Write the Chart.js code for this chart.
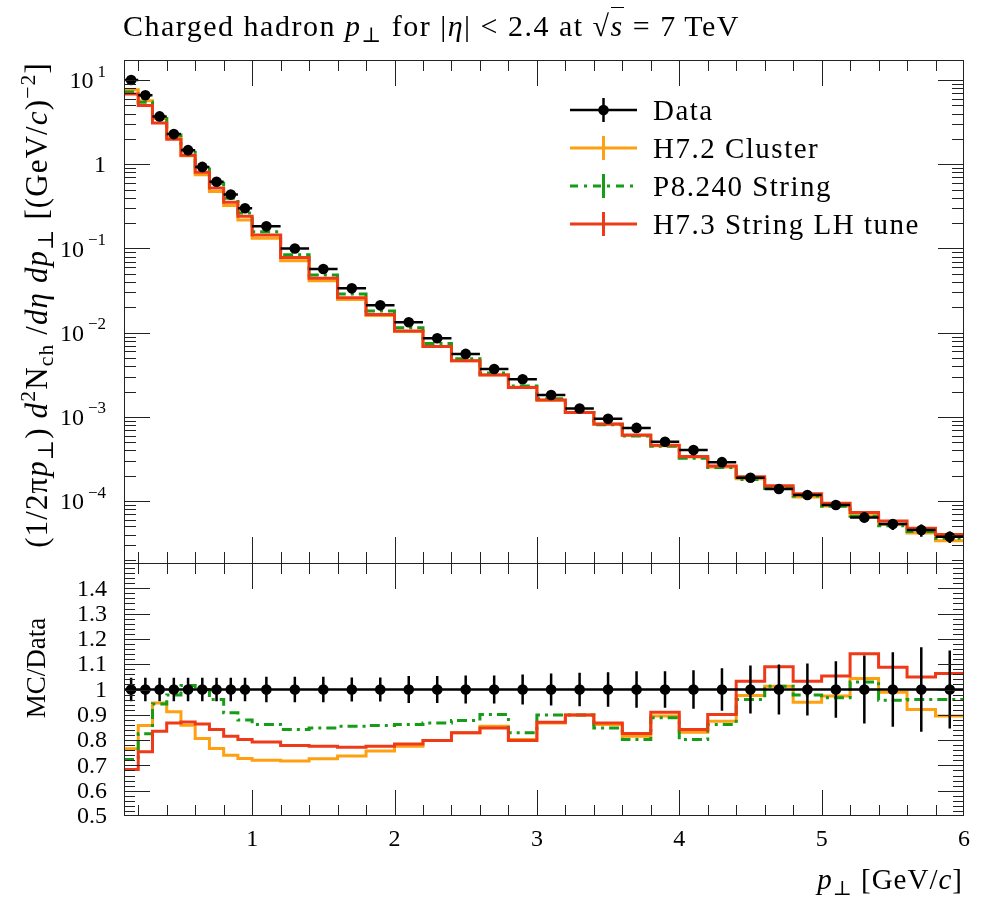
<!DOCTYPE html>
<html>
<head>
<meta charset="utf-8">
<title>Charged hadron pT at 7 TeV</title>
<script src="https://cdn.jsdelivr.net/npm/chart.js@4.4.1/dist/chart.umd.min.js"></script>
<style>
  html, body { margin: 0; padding: 0; background: #fff; }
  #wrap { position: relative; width: 996px; height: 900px; overflow: hidden; font-family: "Liberation Serif", "DejaVu Serif", serif; color: #000; }
  canvas { position: absolute; left: 0; }
  #c-top { top: 0; }
  #c-ratio { top: 540px; }
  .txt { position: absolute; white-space: nowrap; line-height: 1; }
  sub { font-size: 0.7em; vertical-align: -0.3em; line-height: 0; }
  sup { font-size: 0.7em; vertical-align: 0.55em; line-height: 0; }
  #title { left: 123px; top: 11px; font-size: 30px; letter-spacing: 1.5px; }
  #ylab { left: 36px; top: 305px; font-size: 31px; letter-spacing: 1.1px; transform: translate(-50%, -50%) rotate(-90deg); }
  #rlab { left: 36px; top: 668px; font-size: 27px; transform: translate(-50%, -50%) rotate(-90deg); }
  #xlab { right: 33px; top: 865px; font-size: 29px; letter-spacing: 1px; }
  .rt { border-top: 1.5px solid #000; padding-top: 1px; }
</style>
</head>
<body>
<div id="wrap">
  <canvas id="c-top" width="996" height="600"></canvas>
  <canvas id="c-ratio" width="996" height="360"></canvas>
  <div class="txt" id="title">Charged hadron <i>p</i><sub>⊥</sub> for |<i>η</i>| &lt; 2.4 at √<span class="rt"><i>s</i></span> = 7&thinsp;TeV</div>
  <div class="txt" id="ylab">(1/2π<i>p</i><sub>⊥</sub>) <i>d</i><sup>2</sup>N<sub>ch</sub> /<i>dη</i> <i>dp</i><sub>⊥</sub> [(GeV/<i>c</i>)<sup>−2</sup>]</div>
  <div class="txt" id="rlab">MC/Data</div>
  <div class="txt" id="xlab"><i>p</i><sub>⊥</sub> [GeV/<i>c</i>]</div>
</div>
<script>
// bin edges in pT [GeV/c]
const edges = [0.1, 0.2, 0.3, 0.4, 0.5, 0.6, 0.7, 0.8, 0.9, 1.0, 1.2, 1.4, 1.6, 1.8, 2.0, 2.2, 2.4, 2.6, 2.8, 3.0,
  3.2, 3.4, 3.6, 3.8, 4.0, 4.2, 4.4, 4.6, 4.8, 5.0, 5.2, 5.4, 5.6, 5.8, 6.0];

const data = [10.0, 6.6, 3.7, 2.28, 1.47, 0.93, 0.62, 0.436, 0.30, 0.183, 0.100, 0.057, 0.0336, 0.0211, 0.0133,
  0.0086, 0.0056, 0.0037, 0.0028, 0.00182, 0.00126, 0.00095, 0.00074, 0.000506, 0.000403, 0.00029, 0.000189,
  0.000139, 0.000118, 0.0000897, 0.000064, 0.0000533, 0.0000453, 0.0000377];
// relative uncertainty of the data
const dataErr = [0.046, 0.046, 0.046, 0.046, 0.046, 0.046, 0.046, 0.046, 0.046, 0.05, 0.05, 0.05, 0.047, 0.047,
  0.053, 0.053, 0.055, 0.055, 0.059, 0.063, 0.066, 0.068, 0.072, 0.072, 0.076, 0.084, 0.095, 0.099, 0.103,
  0.112, 0.134, 0.147, 0.167, 0.154];

const h72 = [7.66, 5.66, 3.50, 2.08, 1.263, 0.750, 0.476, 0.323, 0.218, 0.132, 0.0717, 0.0414, 0.0248, 0.0160,
  0.01032, 0.00686, 0.00464, 0.00316, 0.00225, 0.00158, 0.00113, 0.000819, 0.000603, 0.000453, 0.000335,
  0.000254, 0.000184, 0.000141, 0.000112, 0.0000874, 0.0000668, 0.0000527, 0.0000417, 0.0000337];
const p8 = [7.23, 5.45, 3.49, 2.23, 1.494, 0.93, 0.595, 0.396, 0.264, 0.158, 0.0842, 0.0483, 0.0287, 0.0181,
  0.01146, 0.00746, 0.00491, 0.00333, 0.00232, 0.00164, 0.00113, 0.000806, 0.000593, 0.000449, 0.000323,
  0.00025, 0.000181, 0.000141, 0.000115, 0.0000867, 0.0000659, 0.0000511, 0.0000435, 0.0000362];
const h73 = [6.84, 4.98, 3.09, 1.98, 1.282, 0.804, 0.522, 0.355, 0.241, 0.145, 0.0779, 0.0442, 0.0259, 0.0164,
  0.01044, 0.00686, 0.00464, 0.00314, 0.00223, 0.00159, 0.00113, 0.000825, 0.000611, 0.00046, 0.000339,
  0.000261, 0.000195, 0.000152, 0.000122, 0.0000945, 0.000073, 0.000058, 0.0000475, 0.0000401];

// MC / Data
const rH72 = [0.766, 0.858, 0.947, 0.912, 0.859, 0.806, 0.767, 0.74, 0.727, 0.72, 0.717, 0.726, 0.737, 0.757,
  0.776, 0.798, 0.829, 0.855, 0.802, 0.868, 0.899, 0.862, 0.815, 0.895, 0.831, 0.875, 0.976, 1.013, 0.95,
  0.974, 1.043, 0.989, 0.921, 0.895];
const rP8 = [0.723, 0.825, 0.943, 0.978, 1.016, 1.0, 0.96, 0.908, 0.879, 0.862, 0.842, 0.848, 0.855, 0.858,
  0.862, 0.868, 0.877, 0.901, 0.829, 0.899, 0.899, 0.848, 0.802, 0.888, 0.802, 0.862, 0.96, 1.013, 0.978,
  0.967, 1.03, 0.958, 0.96, 0.96];
const rH73 = [0.684, 0.754, 0.835, 0.868, 0.872, 0.864, 0.842, 0.815, 0.802, 0.792, 0.779, 0.776, 0.772, 0.776,
  0.785, 0.798, 0.829, 0.848, 0.798, 0.871, 0.899, 0.868, 0.826, 0.91, 0.842, 0.901, 1.033, 1.09, 1.033,
  1.053, 1.141, 1.088, 1.049, 1.063];

const seriesNames = ['Data', 'H7.2 Cluster', 'P8.240 String', 'H7.3 String LH tune'];
const xTickLabels = [1, 2, 3, 4, 5, 6];
const logTickExp = [1, 0, -1, -2, -3, -4];
const ratioTickLabels = ['0.5', '0.6', '0.7', '0.8', '0.9', '1', '1.1', '1.2', '1.3', '1.4'];

const ORANGE = '#ffa010';
const GREEN = '#179c17';
const RED = '#ee3a18';
const DASHDOT = [10, 5, 3, 5];
const FONT = '"Liberation Serif", "DejaVu Serif", serif';
const AXIS = '#222';

const centers = data.map((d, i) => (edges[i] + edges[i + 1]) / 2);

function steps(vals) {
  const pts = vals.map((v, i) => ({ x: edges[i], y: v }));
  pts.push({ x: edges[vals.length], y: vals[vals.length - 1] });
  return pts;
}

function histo(label, vals, color, dash) {
  return {
    label: label,
    data: steps(vals),
    borderColor: color,
    borderWidth: 3,
    borderDash: dash || [],
    stepped: 'before',
    pointRadius: 0,
    fill: false,
  };
}

function dots(vals) {
  return {
    label: 'Data',
    data: vals.map((v, i) => ({ x: centers[i], y: v })),
    showLine: false,
    pointRadius: 5.3,
    pointBackgroundColor: '#000',
    pointBorderWidth: 0,
  };
}

// x ticks on top and bottom edge, pointing inwards
function xTicks(ctx, a, x) {
  for (let k = 1; k < 30; k++) {
    const px = Math.round(x.getPixelForValue(k * 0.2)) + 0.5;
    const len = k % 5 === 0 ? 26 : 11;
    ctx.moveTo(px, a.top); ctx.lineTo(px, a.top + len);
    ctx.moveTo(px, a.bottom); ctx.lineTo(px, a.bottom - len);
  }
}

function yTick(ctx, a, py, len) {
  ctx.moveTo(a.left, py); ctx.lineTo(a.left + len, py);
  ctx.moveTo(a.right, py); ctx.lineTo(a.right - len, py);
}

const topAxes = {
  id: 'topAxes',
  afterDraw(chart) {
    const { ctx, chartArea: a, scales: { x, y } } = chart;
    ctx.save();
    ctx.strokeStyle = AXIS;
    ctx.lineWidth = 1;
    ctx.beginPath();
    xTicks(ctx, a, x);
    for (let n = -5; n <= 1; n++) {
      for (let k = 1; k <= 9; k++) {
        const v = k * Math.pow(10, n);
        if (v < y.min || v > y.max) continue;
        yTick(ctx, a, Math.round(y.getPixelForValue(v)) + 0.5, k === 1 ? 26 : 12);
      }
    }
    ctx.stroke();
    ctx.strokeRect(a.left + 0.5, a.top + 0.5, a.right - a.left - 1, a.bottom - a.top);

    ctx.fillStyle = '#000';
    ctx.textBaseline = 'middle';
    ctx.textAlign = 'right';
    logTickExp.forEach(n => {
      const py = y.getPixelForValue(Math.pow(10, n));
      const xr = 106;
      if (n === 0) {
        ctx.font = '24px ' + FONT;
        ctx.fillText('1', xr, py + 1);
        return;
      }
      const sup = n < 0 ? '\u2212' + (-n) : String(n);
      ctx.font = '17px ' + FONT;
      const w = ctx.measureText(sup).width;
      ctx.fillText(sup, xr, py - 8);
      ctx.font = '24px ' + FONT;
      ctx.fillText('10', xr - w - 4, py + 2);
    });

    // legend
    const colors = ['#000', ORANGE, GREEN, RED];
    const x0 = 570, x1 = 637, xm = 603.5;
    seriesNames.forEach((name, i) => {
      const ly = 110 + i * 38;
      ctx.strokeStyle = colors[i];
      ctx.lineWidth = i === 0 ? 2.5 : 3;
      ctx.setLineDash(i === 2 ? [8, 6, 3, 6] : []);
      ctx.beginPath();
      ctx.moveTo(x0, ly); ctx.lineTo(x1, ly);
      ctx.stroke();
      ctx.setLineDash([]);
      ctx.beginPath();
      ctx.moveTo(xm, ly - 12); ctx.lineTo(xm, ly + 12);
      ctx.stroke();
      if (i === 0) {
        ctx.fillStyle = '#000';
        ctx.beginPath();
        ctx.arc(xm, ly, 5.3, 0, Math.PI * 2);
        ctx.fill();
      }
      ctx.fillStyle = '#000';
      ctx.textAlign = 'left';
      ctx.textBaseline = 'alphabetic';
      ctx.font = '29px ' + FONT;
      ctx.letterSpacing = '1.5px';
      ctx.fillText(name, 653, ly + 10);
      ctx.letterSpacing = '0px';
    });
    ctx.restore();
  }
};

const ratioAxes = {
  id: 'ratioAxes',
  afterDraw(chart) {
    const { ctx, chartArea: a, scales: { x, y } } = chart;
    ctx.save();
    ctx.strokeStyle = AXIS;
    ctx.lineWidth = 1;
    ctx.beginPath();
    xTicks(ctx, a, x);
    for (let k = 26; k < 75; k++) {
      yTick(ctx, a, Math.round(y.getPixelForValue(k * 0.02)) + 0.5, k % 5 === 0 ? 26 : 11);
    }
    ctx.stroke();
    ctx.strokeRect(a.left + 0.5, a.top + 0.5, a.right - a.left - 1, a.bottom - a.top - 1);

    ctx.fillStyle = '#000';
    ctx.font = '24px ' + FONT;
    ctx.textBaseline = 'middle';
    ctx.textAlign = 'right';
    ratioTickLabels.forEach(t => {
      ctx.fillText(t, 107, y.getPixelForValue(parseFloat(t)) + 1);
    });
    ctx.textAlign = 'center';
    xTickLabels.forEach(t => {
      ctx.fillText(String(t), x.getPixelForValue(t), a.bottom + 24);
    });
    ctx.restore();
  }
};

// data bars: horizontal over the bin, vertical for the uncertainty
function barsPlugin(id, level) {
  return {
    id: id,
    beforeDatasetDraw(chart, args) {
      if (args.index !== 0) return;
      const { ctx, scales: { x, y } } = chart;
      ctx.save();
      ctx.strokeStyle = '#000';
      ctx.lineWidth = 2.5;
      ctx.beginPath();
      data.forEach((v, i) => {
        const c = level(v);
        const py = y.getPixelForValue(c);
        ctx.moveTo(x.getPixelForValue(edges[i]), py);
        ctx.lineTo(x.getPixelForValue(edges[i + 1]), py);
        const px = x.getPixelForValue(centers[i]);
        ctx.moveTo(px, y.getPixelForValue(c * (1 - dataErr[i])));
        ctx.lineTo(px, y.getPixelForValue(c * (1 + dataErr[i])));
      });
      ctx.stroke();
      ctx.restore();
    }
  };
}

const baseOptions = (pad, yScale) => ({
  responsive: false,
  animation: false,
  devicePixelRatio: 1,
  events: [],
  layout: { padding: pad },
  plugins: { legend: { display: false }, tooltip: { enabled: false } },
  scales: {
    x: { type: 'linear', min: 0.1, max: 6, bounds: 'data', display: false },
    y: yScale,
  },
});

new Chart(document.getElementById('c-top'), {
  type: 'line',
  data: {
    datasets: [
      dots(data),
      histo('H7.3 String LH tune', h73, RED),
      histo('P8.240 String', p8, GREEN, DASHDOT),
      histo('H7.2 Cluster', h72, ORANGE),
    ],
  },
  options: baseOptions({ left: 124, right: 32, top: 60, bottom: 37 },
    { type: 'logarithmic', min: 1.84e-5, max: 17.3, bounds: 'data', display: false }),
  plugins: [barsPlugin('topBars', v => v), topAxes],
});

new Chart(document.getElementById('c-ratio'), {
  type: 'line',
  data: {
    datasets: [
      dots(data.map(() => 1)),
      histo('H7.3 String LH tune', rH73, RED),
      histo('P8.240 String', rP8, GREEN, DASHDOT),
      histo('H7.2 Cluster', rH72, ORANGE),
    ],
  },
  options: baseOptions({ left: 124, right: 32, top: 23, bottom: 84 },
    { type: 'linear', min: 0.5, max: 1.5, bounds: 'data', display: false }),
  plugins: [barsPlugin('ratioBars', () => 1), ratioAxes],
});
</script>
</body>
</html>
